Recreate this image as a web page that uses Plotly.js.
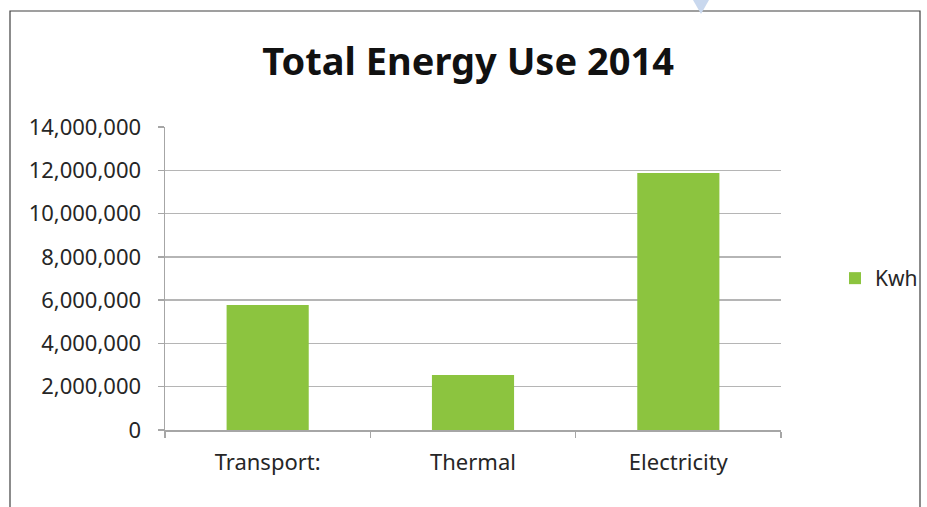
<!DOCTYPE html>
<html>
<head>
<meta charset="utf-8">
<script src="https://cdn.plot.ly/plotly-3.0.1.min.js"></script>
<style>html,body{margin:0;padding:0;background:#fff;overflow:hidden;}#chart{width:927px;height:507px;}</style>
</head>
<body>
<div id="chart"></div>
<script>
const categories = ["Transport:", "Thermal", "Electricity"];
const kwhValues = [5780000, 2540000, 11870000];
const seriesName = "Kwh";
const yTicks = [0, 2000000, 4000000, 6000000, 8000000, 10000000, 12000000, 14000000];
const yTickLabels = ["0", "2,000,000", "4,000,000", "6,000,000", "8,000,000", "10,000,000", "12,000,000", "14,000,000"];

const fontFam = "Noto Sans, Open Sans, sans-serif";
const trace = {
  type: "bar",
  x: categories,
  y: kwhValues,
  name: seriesName,
  marker: {color: "#8cc43f"},
  showlegend: true,
  hoverinfo: "x+y"
};

// paper coords helpers for the frame (plot area x: 165..781, y: 127..430 px)
const px = v => (v - 165) / 616;
const py = v => (430 - v) / 303;

const layout = {
  width: 927, height: 507,
  margin: {l: 165, r: 146, t: 127, b: 77, autoexpand: false},
  paper_bgcolor: "#ffffff",
  plot_bgcolor: "#ffffff",
  title: {
    text: "<b>Total Energy Use 2014</b>",
    font: {family: fontFam, size: 38, color: "#111111"},
    x: 0.505, xanchor: "center", y: 0.878, yanchor: "middle", yref: "container"
  },
  bargap: 0.6,
  xaxis: {
    type: "category",
    showgrid: false,
    showline: true, linecolor: "#a6a6a6", linewidth: 1.5,
    ticks: "outside", tickson: "boundaries", ticklen: 6, tickcolor: "#a6a6a6", tickwidth: 1.5,
    tickfont: {family: fontFam, size: 22, color: "#262626"},
    ticklabelstandoff: 12,
    zeroline: false
  },
  yaxis: {
    range: [0, 14000000],
    tickvals: yTicks, ticktext: yTickLabels,
    showgrid: true, gridcolor: "#b5b5b5", gridwidth: 1.5,
    showline: true, linecolor: "#a6a6a6", linewidth: 1.5,
    ticks: "outside", ticklen: 6, tickcolor: "#a6a6a6", tickwidth: 1.5,
    tickfont: {family: fontFam, size: 22, color: "#262626"},
    ticklabelstandoff: 12,
    zeroline: false
  },
  legend: {
    x: px(835), xanchor: "left", y: 0.50, yanchor: "middle",
    font: {family: fontFam, size: 21, color: "#262626"},
    bgcolor: "rgba(0,0,0,0)", borderwidth: 0,
    itemwidth: 30
  },
  shapes: [
    {type: "rect", xref: "paper", yref: "paper",
     x0: px(10), x1: px(920), y0: py(560), y1: py(11),
     line: {color: "#404040", width: 1.2}, fillcolor: "rgba(0,0,0,0)", layer: "above"},
    {type: "path", xref: "paper", yref: "paper",
     path: "M " + px(693) + " " + py(0) + " L " + px(709) + " " + py(0) + " L " + px(701) + " " + py(14) + " Z",
     fillcolor: "#c9d8ee", line: {width: 0}, layer: "above"}
  ]
};

Plotly.newPlot("chart", [trace], layout, {displayModeBar: false, staticPlot: true});
</script>
</body>
</html>
